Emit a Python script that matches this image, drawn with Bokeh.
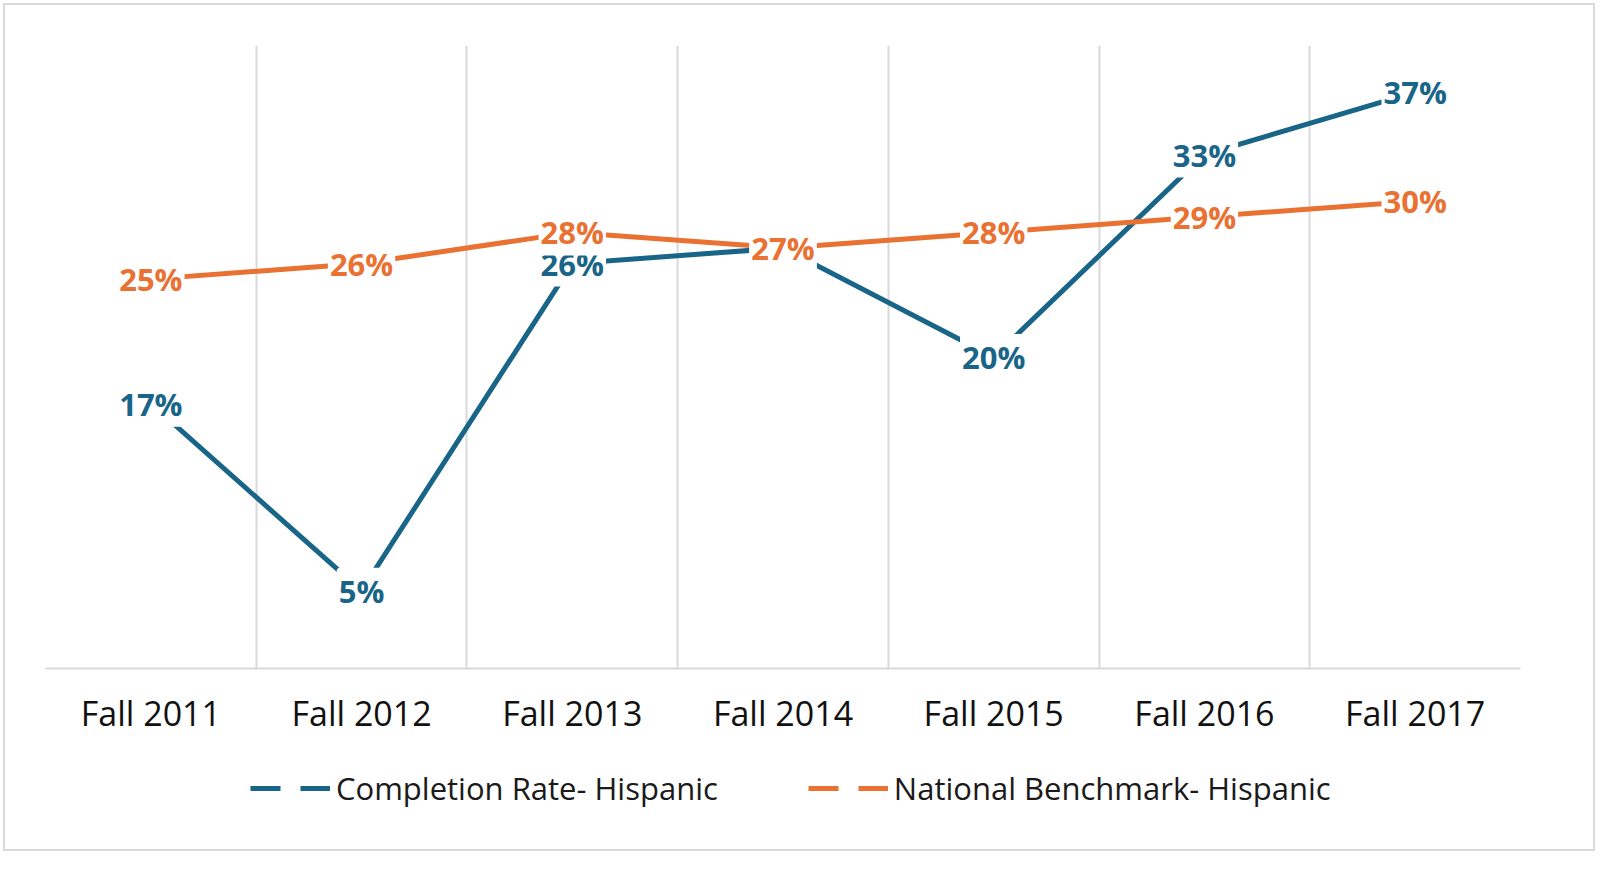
from bokeh.plotting import figure
from bokeh.layouts import column
from bokeh.models import ColumnDataSource, LabelSet, FixedTicker, Legend, LegendItem, Range1d
from bokeh.core.properties import value
from bokeh.embed import file_html
from bokeh.resources import INLINE

categories = ["Fall 2011", "Fall 2012", "Fall 2013", "Fall 2014", "Fall 2015", "Fall 2016", "Fall 2017"]
completion = [17, 5, 26, 27, 20, 33, 37]
benchmark = [25, 26, 28, 27, 28, 29, 30]
series_names = ["Completion Rate- Hispanic", "National Benchmark- Hispanic"]

BLUE = "#196588"
ORANGE = "#E97132"
FONT = "Open Sans"

xs = list(range(len(categories)))

p = figure(frame_width=1475, frame_height=623, output_backend="svg", toolbar_location=None,
           x_range=Range1d(-0.5, len(categories) - 0.5), y_range=Range1d(0, 40),
           min_border_left=40, min_border_right=73, min_border_top=40, min_border_bottom=85)
p.outline_line_color = None
p.background_fill_color = "white"
p.border_fill_color = "white"

p.yaxis.visible = False
p.ygrid.visible = False
p.xgrid.ticker = FixedTicker(ticks=[i - 0.5 for i in range(len(categories) + 1)])
p.xgrid.grid_line_color = "#d9d9d9"
p.xgrid.grid_line_width = 2

p.xaxis.ticker = FixedTicker(ticks=xs)
p.xaxis.major_label_overrides = {i: c for i, c in enumerate(categories)}
p.xaxis.axis_line_color = "#d9d9d9"
p.xaxis.axis_line_width = 2
p.xaxis.major_tick_line_color = None
p.xaxis.minor_tick_line_color = None
p.xaxis.major_label_standoff = 15
p.xaxis.major_label_text_font = FONT
p.xaxis.major_label_text_font_size = "34px"
p.xaxis.major_label_text_color = "#111111"

src_c = ColumnDataSource(dict(x=xs, y=completion, t=[f"{v}%" for v in completion]))
src_b = ColumnDataSource(dict(x=xs, y=benchmark, t=[f"{v}%" for v in benchmark]))

r1 = p.line("x", "y", source=src_c, line_color=BLUE, line_width=5)
r2 = p.line("x", "y", source=src_b, line_color=ORANGE, line_width=5)

for src, col in ((src_c, BLUE), (src_b, ORANGE)):
    ls = LabelSet(x="x", y="y", text="t", source=src, text_align="center", text_baseline="middle",
                  text_font=value(FONT), text_font_style="bold", text_font_size="31px",
                  text_color=col, background_fill_color="white",
                  border_line_color="white", border_line_width=4)
    p.add_layout(ls)

# separate legend strip below the chart; its y-range keeps the series out of view,
# so only the dashed legend samples are drawn
lg = figure(width=1588, height=96, output_backend="svg", toolbar_location=None,
            x_range=Range1d(0, 1), y_range=Range1d(-2, -1), x_axis_type=None, y_axis_type=None,
            min_border=0)
lg.outline_line_color = None
lg.xgrid.visible = False
lg.ygrid.visible = False
l1 = lg.line("x", "y", source=src_c, line_color=BLUE, line_width=5, line_dash="30 20")
l2 = lg.line("x", "y", source=src_b, line_color=ORANGE, line_width=5, line_dash="30 20")

legend = Legend(items=[LegendItem(label=series_names[0], renderers=[l1]),
                       LegendItem(label=series_names[1], renderers=[l2])],
                orientation="horizontal", location=(205, 40))
legend.glyph_width = 80
legend.glyph_height = 30
legend.label_text_font = FONT
legend.label_text_font_size = "31px"
legend.label_text_color = "#1a1a1a"
legend.label_standoff = 6
legend.spacing = 90
legend.border_line_color = None
legend.background_fill_alpha = 0
legend.margin = 0
legend.padding = 5
lg.add_layout(legend, "center")

layout = column(p, lg, spacing=0, styles={"border": "2px solid #d9d9d9", "margin": "3px"})

open("out.html", "w").write(file_html(layout, INLINE))
